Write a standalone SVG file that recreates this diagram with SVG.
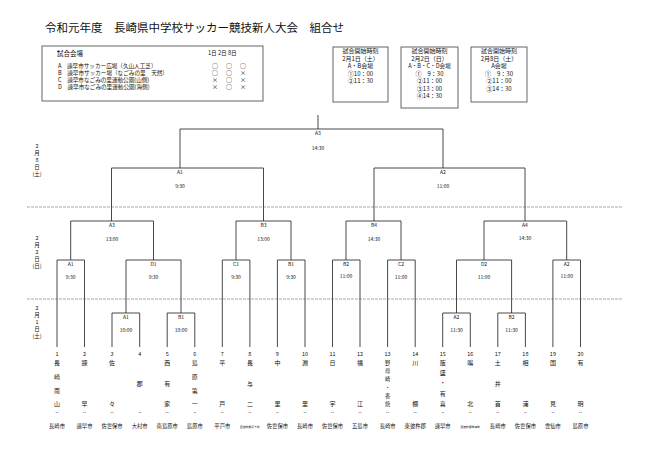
<svg xmlns="http://www.w3.org/2000/svg" width="650" height="459" viewBox="0 0 650 459">
<style>
text{font-family:"Noto Sans CJK JP","Liberation Sans",sans-serif;fill:#111}
.ttl{font-size:11.5px}
.s{font-size:5.6px}
.b{font-size:6px;text-anchor:middle}
.m{font-size:5px;text-anchor:middle}
.n{font-size:5.5px;text-anchor:middle}
.c{font-size:6px;text-anchor:middle}
.c2{font-size:5.2px;text-anchor:middle}
.cy{font-size:5.3px;text-anchor:middle}
.tiny{font-size:2.8px;text-anchor:middle}
.br{fill:none;stroke:#333;stroke-width:0.9}
.box{fill:#fff;stroke:#555;stroke-width:0.9}
.sep{stroke:#aaa;stroke-width:1.2;stroke-dasharray:3 1}
</style>
<rect width="650" height="459" fill="#fff"/>
<g id="title"><text class="ttl" x="45" y="32">令和元年度　長崎県中学校サッカー競技新人大会　組合せ</text></g>
<g id="venues">
<rect class="box" x="42" y="46" width="221" height="55"/>
<text x="57" y="56" style="font-size:6.5px">試合会場</text>
<text class="s" x="208" y="55">1日 2日 8日</text>
<text class="s" x="58" y="68">A　諫早市サッカー広場（久山人工芝）</text>
<text class="s" x="58" y="75">B　諫早市サッカー場（なごみの里　天然）</text>
<text class="s" x="58" y="82">C　諫早市なごみの里運動公園(山側)</text>
<text class="s" x="58" y="89">D　諫早市なごみの里運動公園(海側)</text>
<g class="s" style="font-size:6px;text-anchor:middle">
<text x="215" y="68">○</text><text x="229" y="68">○</text><text x="243" y="68">○</text>
<text x="215" y="75">○</text><text x="229" y="75">○</text><text x="243" y="75">×</text>
<text x="215" y="82">×</text><text x="229" y="82">○</text><text x="243" y="82">×</text>
<text x="215" y="89">×</text><text x="229" y="89">○</text><text x="243" y="89">×</text>
</g>
</g>
<g id="time1"><rect class="box" x="333" y="47" width="55" height="55"/>
<text class="b" x="360.5" y="53">試合開始時刻</text><text class="b" x="360.5" y="60.5">2月1日（土）</text><text class="b" x="360.5" y="68">A・B会場</text><text class="b" x="360.5" y="75.5">①10：00</text><text class="b" x="360.5" y="83">②11：30</text></g>
<g id="time2"><rect class="box" x="401" y="47" width="57" height="61"/>
<text class="b" x="429.5" y="53">試合開始時刻</text><text class="b" x="429.5" y="60.5">2月2日（日）</text><text class="b" x="429.5" y="68" style="font-size:5.6px">A・B・C・D会場</text><text class="b" x="429.5" y="75.5">①　9：30</text><text class="b" x="429.5" y="83">②11：00</text><text class="b" x="429.5" y="90.5">③13：00</text><text class="b" x="429.5" y="98">④14：30</text></g>
<g id="time3"><rect class="box" x="471" y="47" width="56" height="55"/>
<text class="b" x="499" y="53">試合開始時刻</text><text class="b" x="499" y="60.5">2月8日（土）</text><text class="b" x="499" y="68">A会場</text><text class="b" x="499" y="75.5">①　9：30</text><text class="b" x="499" y="83">②11：00</text><text class="b" x="499" y="90.5">③14：30</text></g>
<g id="dates">
<line class="sep" x1="27" y1="207" x2="623" y2="207"/>
<line class="sep" x1="27" y1="299" x2="623" y2="299"/>
<text class="n" x="37" y="148">2</text><text class="n" x="37" y="155">月</text><text class="n" x="37" y="162">8</text><text class="n" x="37" y="169">日</text><text class="n" x="37" y="176">(土)</text>
<text class="n" x="37" y="240">2</text><text class="n" x="37" y="247">月</text><text class="n" x="37" y="254">2</text><text class="n" x="37" y="261">日</text><text class="n" x="37" y="268">(日)</text>
<text class="n" x="37" y="310">2</text><text class="n" x="37" y="317">月</text><text class="n" x="37" y="324">1</text><text class="n" x="37" y="331">日</text><text class="n" x="37" y="338">(土)</text>
</g>
<g id="connectors">
<path class="br" d="M318 115V129M180 168V129H443V168"/>
<path class="br" d="M111.5 221V168H263.5V221M374 221V168H525V221"/>
<path class="br" d="M70.7 260V221H153.5V260M236 260V221H291V260M346 260V221H401V260M484 260V221H566.7V260"/>
<path class="br" d="M57 347V260H84.5V347M126 313V260H181V313M222.3 347V260H249.9V347M277.4 347V260H305V347M332.5 347V260H360V347M387.6 347V260H415.2V347M456.5 313V260H511.6V313M552.9 347V260H580.5V347"/>
<path class="br" d="M112 347V313H139.7V347M167.2 347V313H194.8V347M442.7 347V313H470.3V347M497.8 347V313H525.4V347"/>
</g>
<g id="labels">
<text class="m" x="318" y="135">A3</text><text class="m" x="318" y="150">14:30</text>
<text class="m" x="180" y="174">A1</text><text class="m" x="180" y="188">9:30</text>
<text class="m" x="443" y="174">A2</text><text class="m" x="443" y="188">11:00</text>
<text class="m" x="112" y="227">A3</text><text class="m" x="112" y="241">13:00</text>
<text class="m" x="263.5" y="227">B3</text><text class="m" x="263.5" y="241">13:00</text>
<text class="m" x="374" y="227">B4</text><text class="m" x="374" y="241">14:30</text>
<text class="m" x="525" y="227">A4</text><text class="m" x="525" y="240">14:30</text>
<text class="m" x="70.7" y="266">A1</text><text class="m" x="70.7" y="279">9:30</text>
<text class="m" x="153.5" y="266">D1</text><text class="m" x="153.5" y="279">9:30</text>
<text class="m" x="236" y="266">C1</text><text class="m" x="236" y="279">9:30</text>
<text class="m" x="291" y="266">B1</text><text class="m" x="291" y="279">9:30</text>
<text class="m" x="346" y="266">B2</text><text class="m" x="346" y="278">11:00</text>
<text class="m" x="401" y="266">C2</text><text class="m" x="401" y="279">11:00</text>
<text class="m" x="484" y="266">D2</text><text class="m" x="484" y="279">11:00</text>
<text class="m" x="566.7" y="266">A2</text><text class="m" x="566.7" y="278">11:00</text>
<text class="m" x="126" y="319">A1</text><text class="m" x="126" y="332">10:00</text>
<text class="m" x="181" y="319">B1</text><text class="m" x="181" y="332">10:00</text>
<text class="m" x="456.5" y="319">A2</text><text class="m" x="456.5" y="332">11:30</text>
<text class="m" x="511.6" y="319">B2</text><text class="m" x="511.6" y="332">11:30</text>
</g>
<g id="teams">
<text class="n" x="57" y="356">1</text><text class="c" x="57" y="365">長</text><text class="c" x="57" y="379">崎</text><text class="c" x="57" y="393">南</text><text class="c" x="57" y="406">山</text><text class="cy" x="57" y="413">..</text><text class="cy" x="57" y="428">長崎市</text>
<text class="n" x="84.5" y="356">2</text><text class="c" x="84.5" y="365">諫</text><text class="c" x="84.5" y="406">早</text><text class="cy" x="84.5" y="413">..</text><text class="cy" x="84.5" y="428">諫早市</text>
<text class="n" x="112" y="356">3</text><text class="c" x="112" y="365">佐</text><text class="c" x="112" y="406">々</text><text class="cy" x="112" y="413">..</text><text class="cy" x="112" y="428">佐世保市</text>
<text class="n" x="139.7" y="356">4</text><text class="c" x="139.7" y="386">郡</text><text class="cy" x="139.7" y="413">..</text><text class="cy" x="139.7" y="428">大村市</text>
<text class="n" x="167.2" y="356">5</text><text class="c" x="167.2" y="365">西</text><text class="c" x="167.2" y="386">有</text><text class="c" x="167.2" y="406">家</text><text class="cy" x="167.2" y="413">..</text><text class="cy" x="167.2" y="428">南島原市</text>
<text class="n" x="194.8" y="356">6</text><text class="c" x="194.8" y="365">島</text><text class="c" x="194.8" y="379">原</text><text class="c" x="194.8" y="393">第</text><text class="c" x="194.8" y="406">一</text><text class="cy" x="194.8" y="413">..</text><text class="cy" x="194.8" y="428">島原市</text>
<text class="n" x="222.3" y="356">7</text><text class="c" x="222.3" y="365">平</text><text class="c" x="222.3" y="406">戸</text><text class="cy" x="222.3" y="413">..</text><text class="cy" x="222.3" y="428">平戸市</text>
<text class="n" x="249.9" y="356">8</text><text class="c" x="249.9" y="365">長</text><text class="c" x="249.9" y="386">与</text><text class="c" x="249.9" y="406">二</text><text class="cy" x="249.9" y="413">..</text><text class="tiny" x="249.9" y="428">西彼杵郡長与町</text>
<text class="n" x="277.4" y="356">9</text><text class="c" x="277.4" y="365">中</text><text class="c" x="277.4" y="406">里</text><text class="cy" x="277.4" y="413">..</text><text class="cy" x="277.4" y="428">佐世保市</text>
<text class="n" x="305" y="356">10</text><text class="c" x="305" y="365">淵</text><text class="c" x="305" y="406">里</text><text class="cy" x="305" y="413">..</text><text class="cy" x="305" y="428">長崎市</text>
<text class="n" x="332.5" y="356">11</text><text class="c" x="332.5" y="365">日</text><text class="c" x="332.5" y="406">宇</text><text class="cy" x="332.5" y="413">..</text><text class="cy" x="332.5" y="428">佐世保市</text>
<text class="n" x="360" y="356">12</text><text class="c" x="360" y="365">福</text><text class="c" x="360" y="406">江</text><text class="cy" x="360" y="413">..</text><text class="cy" x="360" y="428">五島市</text>
<text class="n" x="387.6" y="356">13</text><text class="c2" x="387.6" y="365">野</text><text class="c2" x="387.6" y="373">母</text><text class="c2" x="387.6" y="381">崎</text><text class="c2" x="387.6" y="389.5">・</text><text class="c2" x="387.6" y="398">香</text><text class="c2" x="387.6" y="406">焼</text><text class="cy" x="387.6" y="413">..</text><text class="cy" x="387.6" y="428">長崎市</text>
<text class="n" x="415.2" y="356">14</text><text class="c" x="415.2" y="365">川</text><text class="c" x="415.2" y="406">棚</text><text class="cy" x="415.2" y="413">..</text><text class="cy" x="415.2" y="428">東彼杵郡</text>
<text class="n" x="442.7" y="356">15</text><text class="c" x="442.7" y="365">飯</text><text class="c" x="442.7" y="375">盛</text><text class="c" x="442.7" y="385">・</text><text class="c" x="442.7" y="396">有</text><text class="c" x="442.7" y="406">喜</text><text class="cy" x="442.7" y="413">..</text><text class="cy" x="442.7" y="428">諫早市</text>
<text class="n" x="470.3" y="356">16</text><text class="c" x="470.3" y="365">鳴</text><text class="c" x="470.3" y="406">北</text><text class="cy" x="470.3" y="413">..</text><text class="tiny" x="470.3" y="428">西彼杵郡時津町</text>
<text class="n" x="497.8" y="356">17</text><text class="c" x="497.8" y="365">土</text><text class="c" x="497.8" y="386">井</text><text class="c" x="497.8" y="406">首</text><text class="cy" x="497.8" y="413">..</text><text class="cy" x="497.8" y="428">長崎市</text>
<text class="n" x="525.4" y="356">18</text><text class="c" x="525.4" y="365">相</text><text class="c" x="525.4" y="406">浦</text><text class="cy" x="525.4" y="413">..</text><text class="cy" x="525.4" y="428">佐世保市</text>
<text class="n" x="552.9" y="356">19</text><text class="c" x="552.9" y="365">国</text><text class="c" x="552.9" y="406">見</text><text class="cy" x="552.9" y="413">..</text><text class="cy" x="552.9" y="428">雲仙市</text>
<text class="n" x="580.5" y="356">20</text><text class="c" x="580.5" y="365">有</text><text class="c" x="580.5" y="406">明</text><text class="cy" x="580.5" y="413">..</text><text class="cy" x="580.5" y="428">島原市</text>
</g>
</svg>
